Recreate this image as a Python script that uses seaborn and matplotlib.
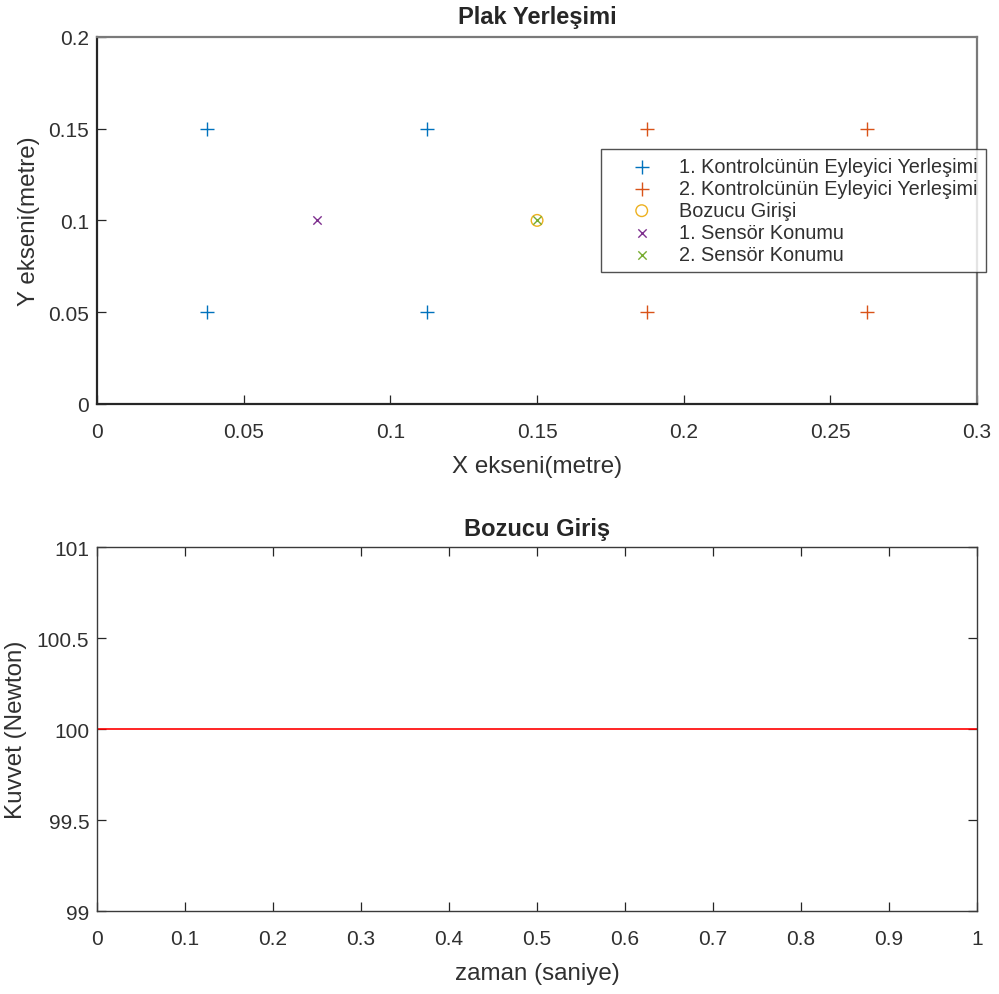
import matplotlib
matplotlib.use("Agg")
import matplotlib.pyplot as plt
import seaborn as sns
import pandas as pd
import numpy as np

sns.set_style("white")
plt.rcParams["font.family"] = ["Liberation Sans", "DejaVu Sans"]

# Actuator, disturbance and sensor positions on the plate (metres)
act1_x = [0.0375, 0.1125, 0.0375, 0.1125]
act1_y = [0.15, 0.15, 0.05, 0.05]
act2_x = [0.1875, 0.2625, 0.1875, 0.2625]
act2_y = [0.15, 0.15, 0.05, 0.05]
dist_x = [0.15]
dist_y = [0.1]
sens1_x = [0.075]
sens1_y = [0.1]
sens2_x = [0.15]
sens2_y = [0.1]

# Disturbance force over time
t_vals = [0.0, 1.0]
force_vals = [100.0, 100.0]

labels = ["1. Kontrolcünün Eyleyici Yerleşimi",
          "2. Kontrolcünün Eyleyici Yerleşimi",
          "Bozucu Girişi",
          "1. Sensör Konumu",
          "2. Sensör Konumu"]
colors = ["#0072BD", "#D95319", "#EDB120", "#7E2F8E", "#77AC30"]

TICK_FS = 15
LABEL_FS = 17.4
TITLE_FS = 17
LEGEND_FS = 14.3
DARK = "#262626"
TEXT = "#303030"

fig = plt.figure(figsize=(9.99, 9.95), dpi=100)
ax1 = fig.add_axes([0.0971, 0.593, 0.881, 0.369])
ax2 = fig.add_axes([0.0971, 0.0834, 0.881, 0.3658])

series = [
    (act1_x, act1_y, "+", 110, labels[0], colors[0]),
    (act2_x, act2_y, "+", 110, labels[1], colors[1]),
    (dist_x, dist_y, "o", 70, labels[2], colors[2]),
    (sens1_x, sens1_y, "x", 36, labels[3], colors[3]),
    (sens2_x, sens2_y, "x", 36, labels[4], colors[4]),
]
for xs, ys, mk, sz, lab, col in series:
    df = pd.DataFrame({"x": xs, "y": ys})
    if mk == "o":
        sns.scatterplot(data=df, x="x", y="y", ax=ax1, marker="o", s=sz,
                        facecolors="none", edgecolor=col, linewidth=1.0, label=lab)
    else:
        sns.scatterplot(data=df, x="x", y="y", ax=ax1, marker=mk, s=sz,
                        color=col, linewidth=1.0, label=lab)

ax1.set_xlim(0, 0.3)
ax1.set_ylim(0, 0.2)
ax1.set_xticks(np.arange(0, 0.31, 0.05))
ax1.set_xticklabels(["0", "0.05", "0.1", "0.15", "0.2", "0.25", "0.3"])
ax1.set_yticks(np.arange(0, 0.21, 0.05))
ax1.set_yticklabels(["0", "0.05", "0.1", "0.15", "0.2"])
ax1.set_xlabel("X ekseni(metre)", fontsize=LABEL_FS, color=TEXT, labelpad=10)
ax1.set_ylabel("Y ekseni(metre)", fontsize=LABEL_FS, color=TEXT, labelpad=6)
ax1.set_title("Plak Yerleşimi", fontsize=TITLE_FS, fontweight="bold", pad=10)

leg = ax1.legend(loc="upper left", bbox_to_anchor=(601 / 999, 1 - 150 / 995),
                 bbox_transform=fig.transFigure,
                 fontsize=LEGEND_FS, frameon=True, fancybox=False, borderpad=0.4,
                 handletextpad=0.25, labelspacing=0.15, handlelength=3.3,
                 borderaxespad=0)
leg.get_frame().set_edgecolor(DARK)
leg.get_frame().set_linewidth(1.0)
for txt in leg.get_texts():
    txt.set_color(TEXT)

df_f = pd.DataFrame({"t": t_vals, "F": force_vals})
sns.lineplot(data=df_f, x="t", y="F", ax=ax2, color="#FF0000", linewidth=1.2)
ax2.set_xlim(0, 1)
ax2.set_ylim(99, 101)
ax2.set_xticks(np.arange(0, 1.01, 0.1))
ax2.set_xticklabels(["0", "0.1", "0.2", "0.3", "0.4", "0.5", "0.6", "0.7", "0.8", "0.9", "1"])
ax2.set_yticks([99, 99.5, 100, 100.5, 101])
ax2.set_yticklabels(["99", "99.5", "100", "100.5", "101"])
ax2.set_xlabel("zaman (saniye)", fontsize=LABEL_FS, color=TEXT, labelpad=10)
ax2.set_ylabel("Kuvvet (Newton)", fontsize=LABEL_FS, color=TEXT, labelpad=7)
ax2.set_title("Bozucu Giriş", fontsize=TITLE_FS, fontweight="bold", pad=9)

# Upper panel: heavier frame, lighter top/right edges
for name, sp in ax1.spines.items():
    sp.set_visible(True)
    sp.set_linewidth(1.6)
    sp.set_color(DARK if name in ("left", "bottom") else "#7a7a7a")
for sp in ax2.spines.values():
    sp.set_visible(True)
    sp.set_color("#3a3a3a")
    sp.set_linewidth(1.0)

ax1.tick_params(direction="in", length=6.5, width=0.9, color=DARK,
                labelsize=TICK_FS, labelcolor=TEXT, top=False, right=False,
                bottom=True, left=True)
ax2.tick_params(direction="in", length=6.5, width=0.9, color=DARK,
                labelsize=TICK_FS, labelcolor=TEXT, top=True, right=True,
                bottom=True, left=True, labeltop=False, labelright=False)
for ax in (ax1, ax2):
    ax.tick_params(axis="x", pad=13)
    ax.tick_params(axis="y", pad=5.5)

fig.savefig("out.png", dpi=100, facecolor="white")
